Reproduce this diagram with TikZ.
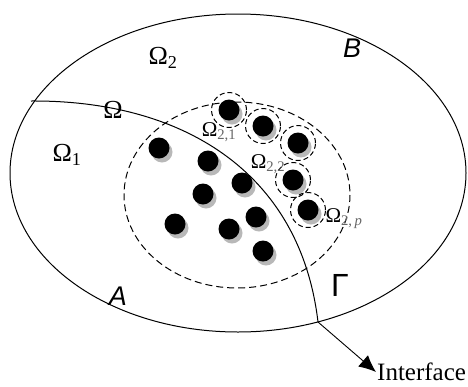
\documentclass[tikz,border=0pt]{standalone}
\usepackage{fontspec}
\setmainfont{Liberation Serif}
\newfontfamily\lsans{Liberation Sans}
\usetikzlibrary{arrows.meta}
\begin{document}
\begin{tikzpicture}[x=1pt,y=-1pt,>={Latex[length=17pt,width=15pt]},
  dot/.style={circle,fill=black,minimum size=21pt,inner sep=0pt},
  shad/.style={circle,fill=black!28,minimum size=21pt,inner sep=0pt},
  cell/.style={circle,draw,line width=1pt,dash pattern=on 5pt off 3pt,minimum size=35pt,inner sep=0pt},
  lbl/.style={font=\fontsize{26}{26}\selectfont},
  sublbl/.style={font=\fontsize{21}{21}\selectfont}]
\useasboundingbox (0,0) rectangle (468,386);
\draw[line width=1pt] (238,173) ellipse (228 and 159);
\draw[line width=1pt,dash pattern=on 7pt off 4pt] (237,195) ellipse (113 and 93);

\coordinate (gstart) at (31,101);
\coordinate (gend) at (318,322);
\draw[line width=1pt] (gstart) .. controls (180,100) and (300,170) .. (gend);

% inclusions near the interface
\foreach \x/\y [count=\i] in {229/110,263/126,298/143,293/180,308/210}{
  \node[shad] at (\x+3,\y+4) {};
  \node[dot] (c\i) at (\x,\y) {};
  \node[cell] (k\i) at (\x,\y) {};
}
% inclusions inside
\foreach \x/\y [count=\i] in {159/148,208/161,242/183,203/194,175/224,256/217,229/229,263/251}{
  \node[shad] at (\x+3,\y+4) {};
  \node[dot] (d\i) at (\x,\y) {};
}

\node[lbl] (om2) at (163,58) {Ω\textsubscript{2}};
\node[lbl] (om1) at (67,155) {Ω\textsubscript{1}};
\node[lbl] (om) at (113,110) {Ω};
\node[sublbl] (om21) at (219,132) {Ω\textsubscript{\color{black!60}2,1}};
\node[sublbl] (om22) at (268,164) {Ω\textsubscript{\color{black!60}2,2}};
\node[sublbl] (om2p) at (344,219) {Ω\textsubscript{\color{black!60}2,\,\textit{p}}};
\node[font=\lsans\itshape\fontsize{27}{27}\selectfont] (B) at (352,48) {B};
\node[font=\lsans\itshape\fontsize{27}{27}\selectfont] (A) at (118,296) {A};
\node[font=\lsans\fontsize{32}{32}\selectfont] (G) at (340,285) {Γ};
\node[font=\fontsize{25}{25}\selectfont,anchor=west,inner sep=1pt] (intf) at (376,372) {Interface};
\draw[->,line width=0.9pt] (gend) -- (intf.west);
\end{tikzpicture}
\end{document}
